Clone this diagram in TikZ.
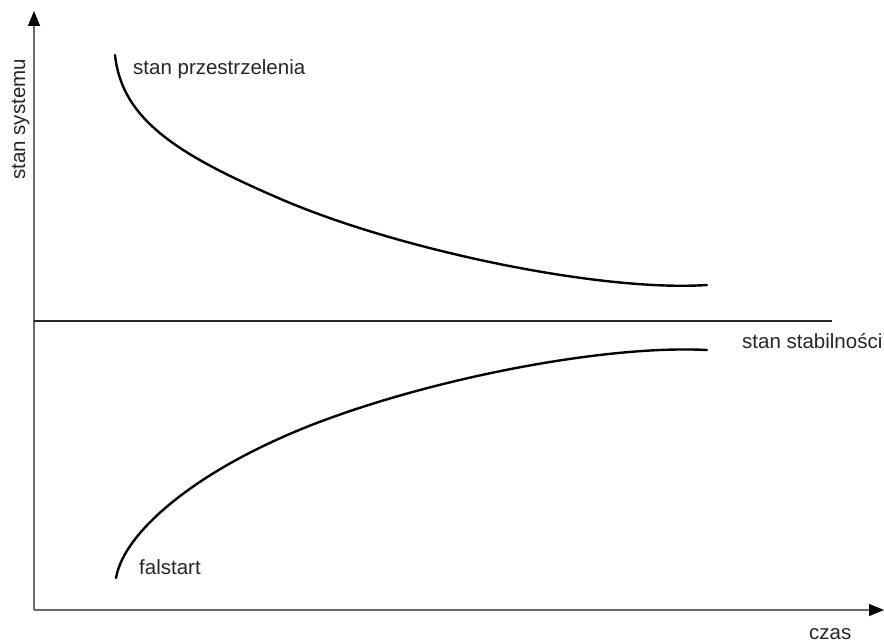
\documentclass[tikz,border=0pt]{standalone}
\usepackage{fontspec}
\setmainfont{Liberation Sans}
\usetikzlibrary{arrows.meta}
\definecolor{axisgray}{RGB}{105,105,105}
\tikzset{
  axisline/.style={draw=axisgray, line width=1.2pt, -{Triangle[length=15pt,width=12pt,color=black]}},
  curveline/.style={draw=black, line width=2.4pt, line cap=round},
  baseline/.style={draw=black!85, line width=2pt},
  lbl/.style={font=\fontsize{20.5}{24}\selectfont, text=black!85, inner sep=0pt},
}
\begin{document}
\begin{tikzpicture}[x=1pt,y=-1pt]
\useasboundingbox (0,0) rectangle (884,642);
\coordinate (O) at (34,610);
\coordinate (Ytip) at (34,11);
\coordinate (Xtip) at (884,610);
\coordinate (S0) at (34,321);
\coordinate (S1) at (832,321);
\draw[axisline] (O) -- (Ytip);
\draw[axisline] (O) -- (Xtip);
\draw[baseline] (S0) -- (S1);
% upper curve
\coordinate (U0) at (115,55);
\coordinate (U1) at (283,200);
\coordinate (U2) at (707,285);
\draw[curveline] (U0) .. controls (122,120) and (178,155) .. (U1)
                      .. controls (400,250) and (600,292) .. (U2);
% lower curve
\coordinate (L0) at (116,578);
\coordinate (L1) at (333,417);
\coordinate (L2) at (707,350);
\draw[curveline] (L0) .. controls (124,530) and (204,463) .. (L1)
                      .. controls (450,375) and (610,345) .. (L2);
\node[lbl, anchor=base west] (lp) at (133,75) {stan przestrzelenia};
\node[lbl, anchor=base west] (ls) at (742,348) {stan stabilności};
\node[lbl, anchor=base west] (lf) at (139,574) {falstart};
\node[lbl, anchor=base west] (lc) at (809,639) {czas};
\node[lbl, anchor=base west, rotate=90] (ly) at (25,180) {stan systemu};
\end{tikzpicture}
\end{document}
